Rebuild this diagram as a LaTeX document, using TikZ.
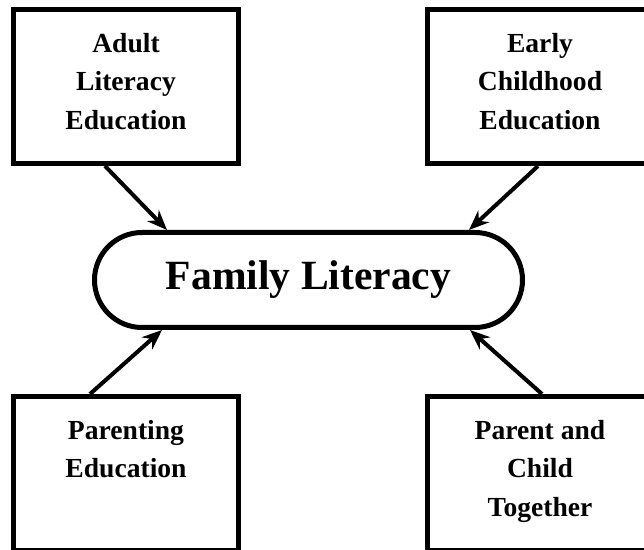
\documentclass[tikz,border=0pt]{standalone}
\usepackage{fontspec}
\setmainfont{Liberation Serif}
\usetikzlibrary{arrows.meta}
% text of a box, set from its top
\newcommand{\boxlines}[1]{\parbox[t][53.5pt][t]{110pt}{\centering #1}}
\begin{document}
\begin{tikzpicture}[x=0.5pt,y=0.5pt,
unit/.style={draw, line width=2.5pt, minimum width=112.5pt, minimum height=77pt, inner sep=0pt, font=\bfseries\fontsize{13.8}{19.25}\selectfont},
core/.style={draw, line width=2.5pt, minimum width=214pt, minimum height=47.5pt, rounded corners=23.75pt, inner sep=0pt, font=\bfseries\fontsize{20.8}{24}\selectfont},
feed/.style={-{Stealth[length=10pt,width=8pt]}, line width=2pt}]
\useasboundingbox (0,0) rectangle (644,-550);
\clip (0,0) rectangle (644,-550);
%\draw[help lines] (0,0) grid[step=50] (644,-550);
\node[core] (fl) at (308.5,-280) {Family Literacy};
\node[unit] (tl) at (126,-86.5) {\boxlines{Adult\\Literacy\\Education}};
\node[unit] (tr) at (540,-86.5) {\boxlines{Early\\Childhood\\Education}};
\node[unit] (bl) at (126,-473.5) {\boxlines{Parenting\\Education}};
\node[unit] (br) at (540,-473.5) {\boxlines{Parent and\\Child\\Together}};
% arrows in to the middle
\draw[feed] ([xshift=-10.5pt]tl.south) -- ([xshift=-70.75pt]fl.north);
\draw[feed] ([xshift=-1pt]tr.south) -- ([xshift=80.25pt]fl.north);
\draw[feed] ([xshift=-18pt]bl.north) -- ([xshift=-73.25pt]fl.south);
\draw[feed] ([xshift=1pt]br.north) -- ([xshift=80.75pt]fl.south);
\end{tikzpicture}
\end{document}
